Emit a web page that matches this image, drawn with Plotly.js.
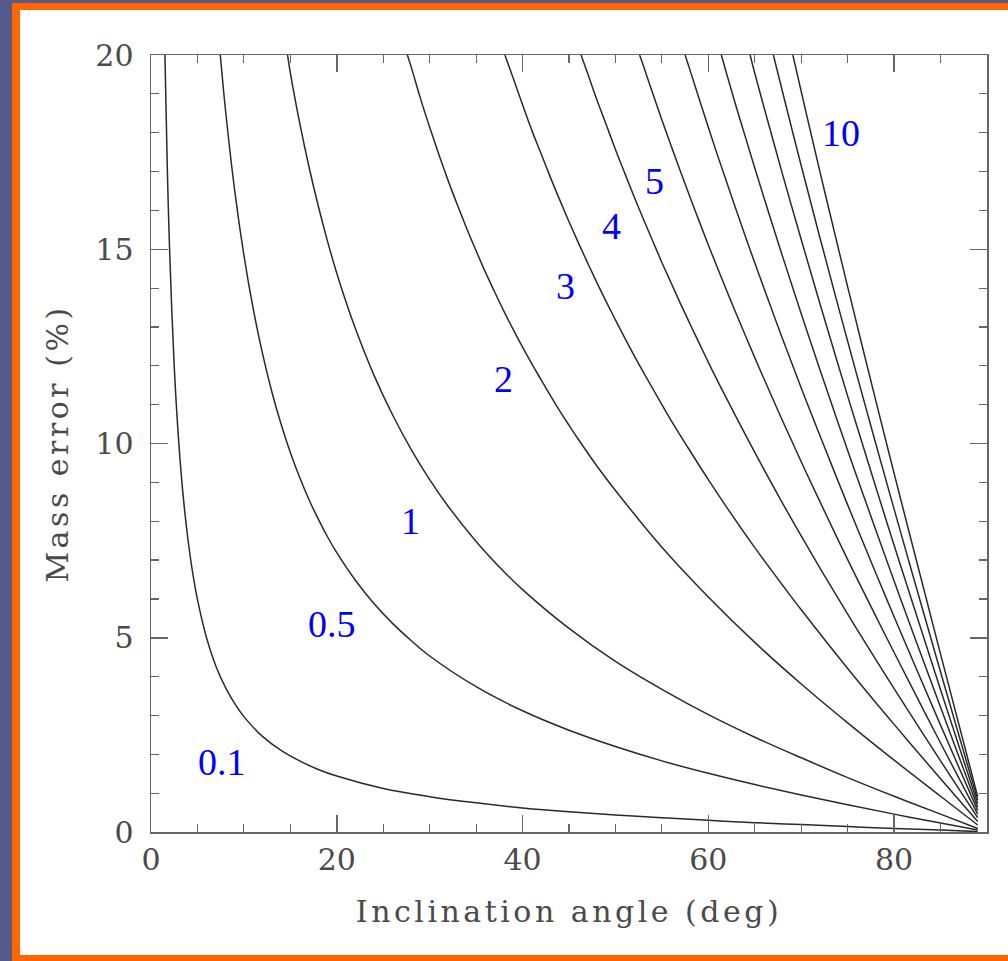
<!DOCTYPE html>
<html>
<head>
<meta charset="utf-8">
<script src="https://cdn.plot.ly/plotly-3.0.1.min.js"></script>
<style>
  html, body { margin:0; padding:0; width:1008px; height:961px; overflow:hidden; background:#545a8c; }
  #frame { position:absolute; left:12px; top:3px; width:996px; height:958px; background:#ff6600; }
  #white { position:absolute; left:20px; top:10px; width:988px; height:945px; background:#ffffff; }
  #chart { position:absolute; left:0; top:0; width:1008px; height:961px; }
</style>
</head>
<body>
<div id="frame"></div>
<div id="white"></div>
<div id="chart"></div>
<script>
// Inclination angle (deg) and mass error (%), labelled by inclination error (deg)
var curveNames = ["0.1", "0.5", "1", "2", "3", "4", "5", "6", "7", "8", "9", "10"];

var inc_0_1 = [1.5, 1.75, 2, 2.5, 3, 3.5, 4, 4.5, 5, 6, 7, 8, 9, 10, 12, 14, 16, 18, 20, 25, 30, 35, 40, 45, 50, 55, 60, 65, 70, 75, 80, 85, 89];
var err_0_1 = [20, 17.14, 15.00, 11.99, 9.99, 8.56, 7.49, 6.65, 5.99, 4.98, 4.26, 3.73, 3.31, 2.97, 2.46, 2.10, 1.83, 1.61, 1.44, 1.12, 0.91, 0.75, 0.62, 0.52, 0.44, 0.37, 0.30, 0.24, 0.19, 0.14, 0.09, 0.05, 0.01];

var inc_0_5 = [7.46, 8, 9, 10, 11, 12, 13, 14, 15, 16, 17, 18, 19, 20, 22, 24, 26, 28, 30, 35, 40, 45, 50, 55, 60, 65, 70, 75, 80, 85, 89];
var err_0_5 = [20, 18.63, 16.53, 14.85, 13.47, 12.32, 11.34, 10.50, 9.77, 9.13, 8.56, 8.06, 7.60, 7.19, 6.48, 5.88, 5.37, 4.93, 4.53, 3.74, 3.12, 2.62, 2.20, 1.83, 1.51, 1.22, 0.95, 0.70, 0.46, 0.23, 0.05];

var inc_1 = [14.7, 15, 16, 17, 18, 19, 20, 21, 22, 24, 26, 28, 30, 32, 35, 38, 40, 45, 50, 55, 60, 65, 70, 75, 80, 85, 89];
var err_1 = [20, 19.54, 18.26, 17.13, 16.12, 15.21, 14.38, 13.64, 12.96, 11.76, 10.74, 9.85, 9.07, 8.38, 7.48, 6.70, 6.24, 5.24, 4.39, 3.67, 3.02, 2.44, 1.91, 1.40, 0.92, 0.46, 0.09];

var inc_2 = [27.6, 28, 29, 30, 31, 32, 33, 34, 35, 36, 37, 38, 39, 40, 41, 42, 43, 44, 45, 46, 48, 50, 55, 60, 65, 70, 75, 80, 85, 89];
var err_2 = [20, 19.70, 18.89, 18.14, 17.43, 16.76, 16.13, 15.53, 14.96, 14.41, 13.90, 13.40, 12.93, 12.48, 12.05, 11.64, 11.23, 10.84, 10.47, 10.11, 9.42, 8.79, 7.33, 6.05, 4.88, 3.81, 2.81, 1.85, 0.92, 0.18];

var inc_3 = [38.1, 39, 40, 41, 42, 43, 44, 45, 46, 47, 48, 49, 50, 51, 52, 53, 55, 56, 58, 60, 62, 65, 68, 70, 75, 80, 85, 89];
var err_3 = [20, 19.40, 18.72, 18.06, 17.46, 16.85, 16.27, 15.71, 15.17, 14.65, 14.14, 13.65, 13.18, 12.72, 12.27, 11.84, 11.00, 10.59, 9.82, 9.07, 8.35, 7.32, 6.35, 5.72, 4.21, 2.77, 1.37, 0.27];

var inc_4 = [46.3, 47, 48, 49, 50, 51, 52, 53, 54, 55, 56, 57, 58, 59, 60, 62, 65, 68, 70, 72, 75, 78, 80, 85, 89];
var err_4 = [20, 19.53, 18.85, 18.21, 17.57, 16.96, 16.36, 15.78, 15.22, 14.66, 14.13, 13.60, 13.09, 12.59, 12.09, 11.14, 9.77, 8.46, 7.62, 6.80, 5.61, 4.45, 3.69, 1.83, 0.37];

var inc_5 = [52.6, 53, 54, 55, 56, 57, 58, 59, 60, 61, 62, 63, 65, 66, 68, 70, 72, 75, 78, 80, 85, 89];
var err_5 = [20, 19.73, 19.02, 18.33, 17.66, 17.00, 16.36, 15.73, 15.11, 14.51, 13.92, 13.34, 12.21, 11.66, 10.58, 9.53, 8.51, 7.01, 5.57, 4.62, 2.29, 0.46];

var inc_6 = [57.5, 58, 59, 60, 61, 62, 63, 64, 65, 66, 68, 70, 72, 75, 78, 80, 82, 85, 89];
var err_6 = [20, 19.63, 18.88, 18.14, 17.41, 16.71, 16.01, 15.32, 14.65, 13.99, 12.69, 11.43, 10.21, 8.42, 6.68, 5.54, 4.42, 2.75, 0.55];

var inc_7 = [61.4, 62, 63, 64, 65, 66, 67, 68, 70, 72, 75, 78, 80, 82, 85, 89];
var err_7 = [20, 19.49, 18.67, 17.88, 17.09, 16.32, 15.56, 14.81, 13.34, 11.91, 9.82, 7.79, 6.46, 5.15, 3.21, 0.64];

var inc_8 = [64.5, 65, 66, 67, 68, 69, 70, 72, 75, 78, 80, 82, 85, 89];
var err_8 = [20, 19.53, 18.65, 17.78, 16.92, 16.08, 15.25, 13.61, 11.22, 8.90, 7.38, 5.89, 3.66, 0.73];

var inc_9 = [67.0, 68, 69, 70, 71, 72, 75, 78, 80, 82, 85, 89];
var err_9 = [20, 19.04, 18.09, 17.15, 16.23, 15.31, 12.63, 10.02, 8.31, 6.62, 4.12, 0.82];

var inc_10 = [69.1, 70, 71, 72, 73, 75, 78, 80, 82, 85, 89];
var err_10 = [20, 19.06, 18.03, 17.01, 16.01, 14.03, 11.13, 9.23, 7.36, 4.58, 0.91];

// curve labels (text and data position)
var labelText = ["0.1", "0.5", "1", "2", "3", "4", "5", "10"];
var labelX = [7.6, 19.5, 27.9, 37.9, 44.6, 49.6, 54.2, 74.3];
var labelY = [1.8, 5.35, 8.0, 11.65, 14.05, 15.6, 16.75, 18.0];

var xTickVals = [0, 20, 40, 60, 80];
var yTickVals = [0, 5, 10, 15, 20];

var incs = [inc_0_1, inc_0_5, inc_1, inc_2, inc_3, inc_4, inc_5, inc_6, inc_7, inc_8, inc_9, inc_10];
var errs = [err_0_1, err_0_5, err_1, err_2, err_3, err_4, err_5, err_6, err_7, err_8, err_9, err_10];

var traces = incs.map(function (xs, k) {
  return {
    x: xs, y: errs[k], name: curveNames[k], type: 'scatter', mode: 'lines',
    line: { color: '#2a2a2a', width: 1.5, shape: 'spline', smoothing: 1 },
    hoverinfo: 'skip', showlegend: false, cliponaxis: true
  };
});

var annotations = labelText.map(function (t, k) {
  return {
    x: labelX[k], y: labelY[k], xref: 'x', yref: 'y', text: t, showarrow: false,
    font: { family: 'Liberation Serif, Times New Roman, serif', size: 38, color: '#0000ff' },
    xanchor: 'center', yanchor: 'middle'
  };
});

var axisFont = { family: 'DejaVu Serif, serif', size: 30, color: '#4a4a4a' };
var titleFont = { family: 'DejaVu Serif, serif', size: 30, color: '#4a4a4a' };

var layout = {
  width: 1008, height: 961,
  paper_bgcolor: 'rgba(0,0,0,0)', plot_bgcolor: '#ffffff',
  margin: { l: 151, r: 21, t: 55, b: 129 },
  showlegend: false,
  xaxis: {
    range: [0, 90], tickvals: xTickVals, ticks: 'inside', ticklen: 17, tickwidth: 1.5, tickcolor: '#666666',
    showline: true, linecolor: '#666666', linewidth: 1.5, mirror: 'allticks', showgrid: false, zeroline: false,
    tickfont: axisFont,
    minor: { dtick: 5, ticks: 'inside', ticklen: 8, tickwidth: 1.2, tickcolor: '#666666', showgrid: false },
    title: { text: 'Inclination angle (deg)', font: titleFont, standoff: 25 }
  },
  yaxis: {
    range: [0, 20], tickvals: yTickVals, ticks: 'inside', ticklen: 17, tickwidth: 1.5, tickcolor: '#666666',
    showline: true, linecolor: '#666666', linewidth: 1.5, mirror: 'allticks', showgrid: false, zeroline: false,
    tickfont: axisFont, ticklabelstandoff: 10,
    minor: { dtick: 1, ticks: 'inside', ticklen: 8, tickwidth: 1.2, tickcolor: '#666666', showgrid: false },
    title: { text: 'Mass error (%)', font: titleFont, standoff: 18 }
  },
  annotations: annotations
};

Plotly.newPlot('chart', traces, layout, { displayModeBar: false, staticPlot: true }).then(function (gd) {
  // widen the axis-title lettering to resemble the original plotting font
  gd.querySelectorAll('.xtitle, .ytitle').forEach(function (el) { el.style.letterSpacing = '3.5px'; });
});
</script>
</body>
</html>
